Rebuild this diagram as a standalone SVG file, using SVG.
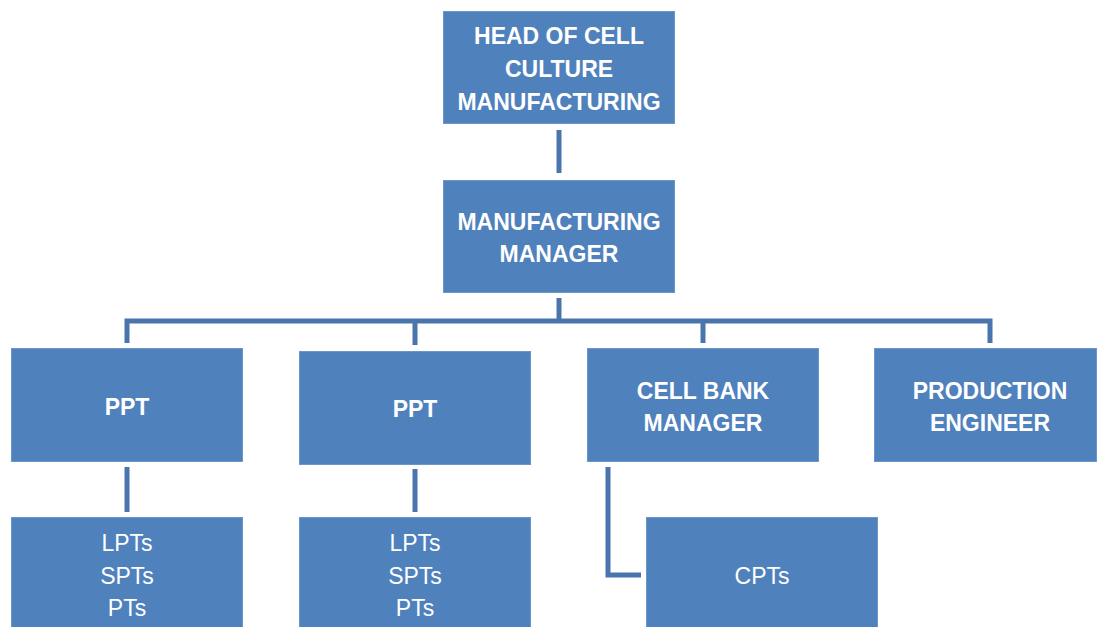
<svg xmlns="http://www.w3.org/2000/svg" width="1097" height="627" viewBox="0 0 1097 627">
<style>
.box{fill:#4f81bd;stroke:#6a96cb;stroke-width:1}
.t{font-family:"Liberation Sans",Arial,sans-serif;fill:#ffffff;text-anchor:middle}
.b{font-weight:bold;font-size:23px}
.r{font-size:23px}
.c{fill:none;stroke:#4a74ad;stroke-width:5}
</style>
<rect width="1097" height="627" fill="#ffffff"/>
<g id="connectors">
<path class="c" d="M559 130 V173"/>
<path class="c" d="M559 298 V321"/>
<path class="c" d="M127 343 V321 H990 V343"/>
<path class="c" d="M415 321 V345"/>
<path class="c" d="M703 321 V343"/>
<path class="c" d="M127 467 V512"/>
<path class="c" d="M415 469 V512"/>
<path class="c" d="M608 467 V575 H641"/>
</g>
<g id="head">
<rect class="box" x="443.5" y="11.5" width="231" height="112"/>
<text class="t b" x="559" y="44">HEAD OF CELL</text>
<text class="t b" x="559" y="77">CULTURE</text>
<text class="t b" x="559" y="110">MANUFACTURING</text>
</g>
<g id="manager">
<rect class="box" x="443.5" y="180.5" width="231" height="112"/>
<text class="t b" x="559" y="230">MANUFACTURING</text>
<text class="t b" x="559" y="262">MANAGER</text>
</g>
<g id="ppt1">
<rect class="box" x="11.5" y="348.5" width="231" height="113"/>
<text class="t b" x="127" y="415">PPT</text>
</g>
<g id="ppt2">
<rect class="box" x="299.5" y="351.5" width="231" height="113"/>
<text class="t b" x="415" y="417">PPT</text>
</g>
<g id="cellbank">
<rect class="box" x="587.5" y="348.5" width="231" height="113"/>
<text class="t b" x="703" y="399">CELL BANK</text>
<text class="t b" x="703" y="431">MANAGER</text>
</g>
<g id="engineer">
<rect class="box" x="874.5" y="348.5" width="222" height="113"/>
<text class="t b" x="990" y="399">PRODUCTION</text>
<text class="t b" x="990" y="431">ENGINEER</text>
</g>
<g id="team1">
<rect class="box" x="11.5" y="517.5" width="231" height="115"/>
<text class="t r" x="127" y="551">LPTs</text>
<text class="t r" x="127" y="584">SPTs</text>
<text class="t r" x="127" y="616">PTs</text>
</g>
<g id="team2">
<rect class="box" x="299.5" y="517.5" width="231" height="115"/>
<text class="t r" x="415" y="551">LPTs</text>
<text class="t r" x="415" y="584">SPTs</text>
<text class="t r" x="415" y="616">PTs</text>
</g>
<g id="cpts">
<rect class="box" x="646.5" y="517.5" width="231" height="115"/>
<text class="t r" x="762" y="584">CPTs</text>
</g>
</svg>
